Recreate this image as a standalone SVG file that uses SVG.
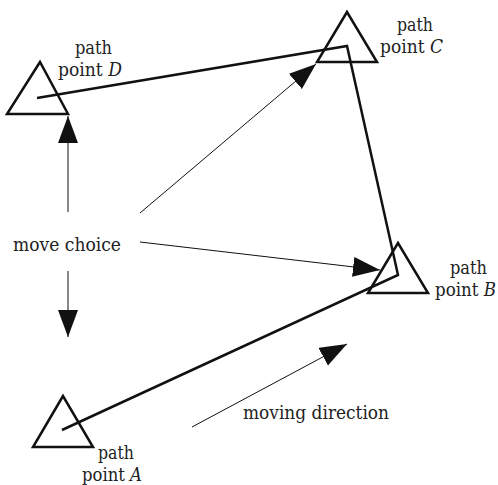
<svg xmlns="http://www.w3.org/2000/svg" width="498" height="485" viewBox="0 0 498 485">
<style>
.tri{fill:none;stroke:#111;stroke-width:2.5;stroke-linejoin:miter}
.path{fill:none;stroke:#111;stroke-width:2.5}
.arr{fill:none;stroke:#111;stroke-width:1}
.lbl{font-family:'DejaVu Serif',serif;font-size:18px;fill:#222}
.it{font-style:italic}
</style>
<defs>
<marker id="ah" markerUnits="userSpaceOnUse" markerWidth="28" markerHeight="22" refX="27" refY="10" orient="auto" viewBox="0 0 28 22">
<path d="M0,0 L27,10 L0,20 z" fill="#111"/>
</marker>
</defs>
<rect width="498" height="485" fill="#fff"/>
<g id="nodeD">
<polygon class="tri" points="40,62 7,114 68,114"/>
<text class="lbl" x="75" y="54" textLength="37" lengthAdjust="spacingAndGlyphs">path</text>
<text class="lbl" x="58" y="76" textLength="64" lengthAdjust="spacingAndGlyphs">point <tspan class="it">D</tspan></text>
</g>
<g id="nodeC">
<polygon class="tri" points="347,12 317,62 377,62"/>
<text class="lbl" x="397" y="31" textLength="36" lengthAdjust="spacingAndGlyphs">path</text>
<text class="lbl" x="380" y="53" textLength="63" lengthAdjust="spacingAndGlyphs">point <tspan class="it">C</tspan></text>
</g>
<g id="nodeB">
<polygon class="tri" points="398,243 368,293 428,293"/>
<text class="lbl" x="450" y="274" textLength="37" lengthAdjust="spacingAndGlyphs">path</text>
<text class="lbl" x="435" y="296" textLength="61" lengthAdjust="spacingAndGlyphs">point <tspan class="it">B</tspan></text>
</g>
<g id="nodeA">
<polygon class="tri" points="63,396 33,447 93,447"/>
<text class="lbl" x="98" y="459" textLength="36" lengthAdjust="spacingAndGlyphs">path</text>
<text class="lbl" x="82" y="481" textLength="60" lengthAdjust="spacingAndGlyphs">point <tspan class="it">A</tspan></text>
</g>
<g id="moveChoice">
<text class="lbl" x="13" y="251" textLength="108" lengthAdjust="spacingAndGlyphs">move choice</text>
</g>
<g id="movingDirection">
<text class="lbl" x="243" y="419" textLength="146" lengthAdjust="spacingAndGlyphs">moving direction</text>
</g>
<g id="connectors">
<polyline class="path" points="37,98 347,46 398,275 62,430"/>
<line class="arr" x1="68" y1="212" x2="68" y2="116" marker-end="url(#ah)"/>
<line class="arr" x1="68" y1="271" x2="68" y2="337" marker-end="url(#ah)"/>
<line class="arr" x1="140" y1="213" x2="316" y2="64" marker-end="url(#ah)"/>
<line class="arr" x1="140" y1="242" x2="380" y2="270" marker-end="url(#ah)"/>
<line class="arr" x1="192" y1="427" x2="347" y2="344" marker-end="url(#ah)"/>
</g>
</svg>
